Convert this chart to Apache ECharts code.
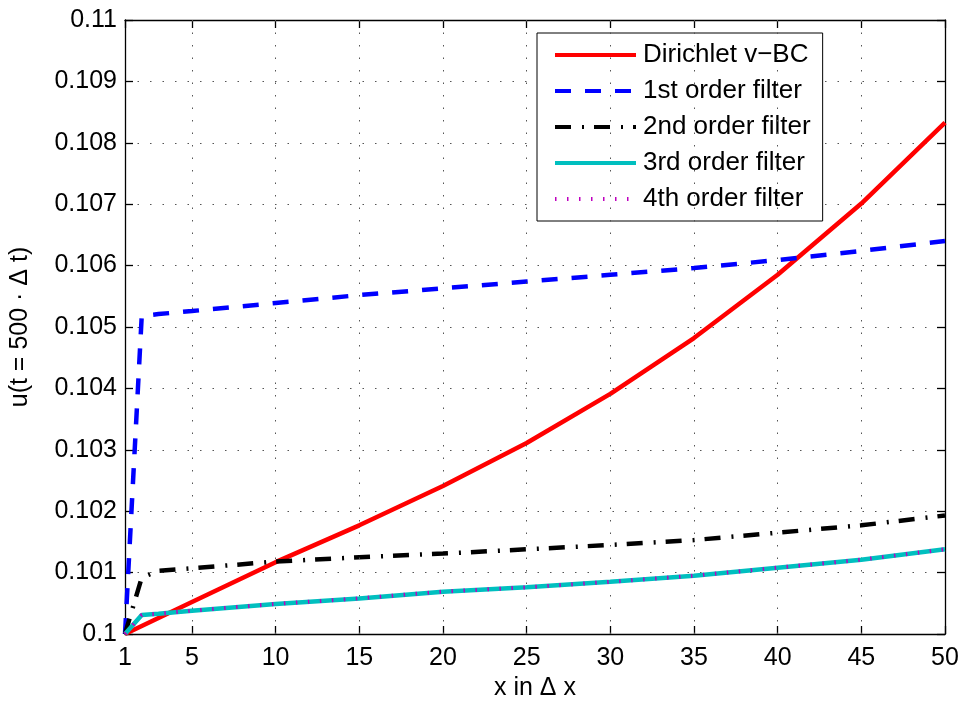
<!DOCTYPE html>
<html>
<head>
<meta charset="utf-8">
<script src="https://cdn.jsdelivr.net/npm/echarts@6/dist/echarts.min.js"></script>
<style>
  html, body { margin: 0; padding: 0; background: #fff; }
  #chart { width: 965px; height: 706px; }
</style>
</head>
<body>
<div id="chart"></div>
<script>
// x positions (in Δx) where values were read
var xs = [1, 2, 3, 5, 10, 15, 20, 25, 30, 35, 40, 45, 50];

// u(t = 500·Δt) for each curve
var dirichlet = [0.1, 0.10013, 0.10026, 0.10052, 0.10117, 0.10177, 0.10241, 0.10311, 0.10391, 0.10482, 0.10585, 0.10701, 0.10833];
var filter1 = [0.1, 0.10518, 0.10521, 0.10526, 0.10539, 0.10552, 0.10563, 0.10574, 0.10585, 0.10596, 0.10609, 0.10624, 0.10640];
var filter2 = [0.1, 0.10092, 0.10103, 0.10107, 0.10118, 0.10125, 0.10131, 0.10138, 0.10145, 0.10153, 0.10165, 0.10177, 0.10193];
var filter3 = [0.1, 0.10031, 0.10033, 0.10038, 0.10049, 0.10058, 0.10069, 0.10076, 0.10085, 0.10095, 0.10108, 0.10121, 0.10138];
var filter4 = [0.1, 0.10031, 0.10033, 0.10038, 0.10049, 0.10058, 0.10069, 0.10076, 0.10085, 0.10095, 0.10108, 0.10121, 0.10138];

// tick labels of the x axis
var xTicks = [1, 5, 10, 15, 20, 25, 30, 35, 40, 45, 50];

var names = ['Dirichlet v\u2212BC', '1st order filter', '2nd order filter', '3rd order filter', '4th order filter'];

var FONT = '"Liberation Sans", Arial, Helvetica, sans-serif';

function pairs(ys) {
  return xs.map(function (x, i) { return [x, ys[i]]; });
}

var chart = echarts.init(document.getElementById('chart'));

var dotted = { color: '#555', width: 1, type: [1.5, 11] };
var gridLine = { show: true, lineStyle: dotted };
var axisLine = { show: true, lineStyle: { color: '#000', width: 1.3 } };
var tick = { show: true, inside: true, length: 8, lineStyle: { color: '#000', width: 1.3 } };
var xTick = { show: true, inside: true, length: 8, customValues: xTicks, lineStyle: { color: '#000', width: 1.3 } };

// vertical dotted grid lines at the inner x ticks
var vGrid = xTicks.slice(1, -1).map(function (v) { return { xAxis: v }; });

var option = {
  animation: false,
  backgroundColor: '#fff',
  grid: { left: 125, right: 20, top: 20, bottom: 70, containLabel: false },
  legend: {
    orient: 'vertical',
    left: 537,
    top: 33,
    padding: [9, 12, 9, 16],
    itemWidth: 81,
    itemHeight: 16,
    itemGap: 10,
    borderColor: '#000',
    borderWidth: 1,
    backgroundColor: '#fff',
    itemStyle: { color: 'transparent', borderWidth: 0, opacity: 0 },
    lineStyle: { width: 4 },
    textStyle: { fontFamily: FONT, fontSize: 26, color: '#000', padding: [0, 0, 0, 2] },
    data: names
  },
  xAxis: [{
    type: 'value',
    min: 1,
    max: 50,
    name: 'x in \u0394 x',
    nameLocation: 'middle',
    nameGap: 42,
    nameTextStyle: { fontFamily: FONT, fontSize: 25, color: '#000' },
    axisLine: axisLine,
    axisTick: xTick,
    axisLabel: { fontFamily: FONT, fontSize: 25, color: '#000', margin: 12, customValues: xTicks },
    splitLine: { show: false }
  }, {
    type: 'value',
    position: 'top',
    min: 1,
    max: 50,
    axisLine: axisLine,
    axisTick: xTick,
    axisLabel: { show: false },
    splitLine: { show: false }
  }],
  yAxis: [{
    type: 'value',
    min: 0.1,
    max: 0.11,
    interval: 0.001,
    name: 'u(t = 500 \u00b7 \u0394 t)',
    nameLocation: 'middle',
    nameGap: 92,
    nameTextStyle: { fontFamily: FONT, fontSize: 25, color: '#000' },
    axisLine: axisLine,
    axisTick: tick,
    axisLabel: {
      fontFamily: FONT, fontSize: 25, color: '#000', margin: 8,
      formatter: function (v) { return String(+v.toFixed(3)); }
    },
    splitLine: gridLine
  }, {
    type: 'value',
    position: 'right',
    min: 0.1,
    max: 0.11,
    interval: 0.001,
    axisLine: axisLine,
    axisTick: tick,
    axisLabel: { show: false },
    splitLine: { show: false }
  }],
  series: [{
    name: 'grid',
    type: 'line',
    data: [],
    silent: true,
    z: 1,
    markLine: {
      silent: true,
      symbol: 'none',
      label: { show: false },
      lineStyle: dotted,
      emphasis: { disabled: true },
      data: vGrid
    }
  }, {
    name: names[0],
    type: 'line',
    symbol: 'none',
    data: pairs(dirichlet),
    lineStyle: { color: '#ff0000', width: 4.5, join: 'round' },
    itemStyle: { color: '#ff0000' },
    z: 2
  }, {
    name: names[1],
    type: 'line',
    symbol: 'none',
    data: pairs(filter1),
    lineStyle: { color: '#0000ff', width: 4.5, type: [16, 14], cap: 'butt' },
    itemStyle: { color: '#0000ff' },
    z: 3
  }, {
    name: names[2],
    type: 'line',
    symbol: 'none',
    data: pairs(filter2),
    lineStyle: { color: '#000000', width: 4.5, type: [16, 11, 2, 10], cap: 'butt' },
    itemStyle: { color: '#000000' },
    z: 4
  }, {
    name: names[3],
    type: 'line',
    symbol: 'none',
    data: pairs(filter3),
    lineStyle: { color: '#00bfbf', width: 4.5 },
    itemStyle: { color: '#00bfbf' },
    z: 5
  }, {
    name: names[4],
    type: 'line',
    symbol: 'none',
    data: pairs(filter4),
    lineStyle: { color: '#bf00bf', width: 4, type: [1.5, 10.5], cap: 'butt' },
    itemStyle: { color: '#bf00bf' },
    z: 6
  }]
};

chart.setOption(option);
</script>
</body>
</html>
